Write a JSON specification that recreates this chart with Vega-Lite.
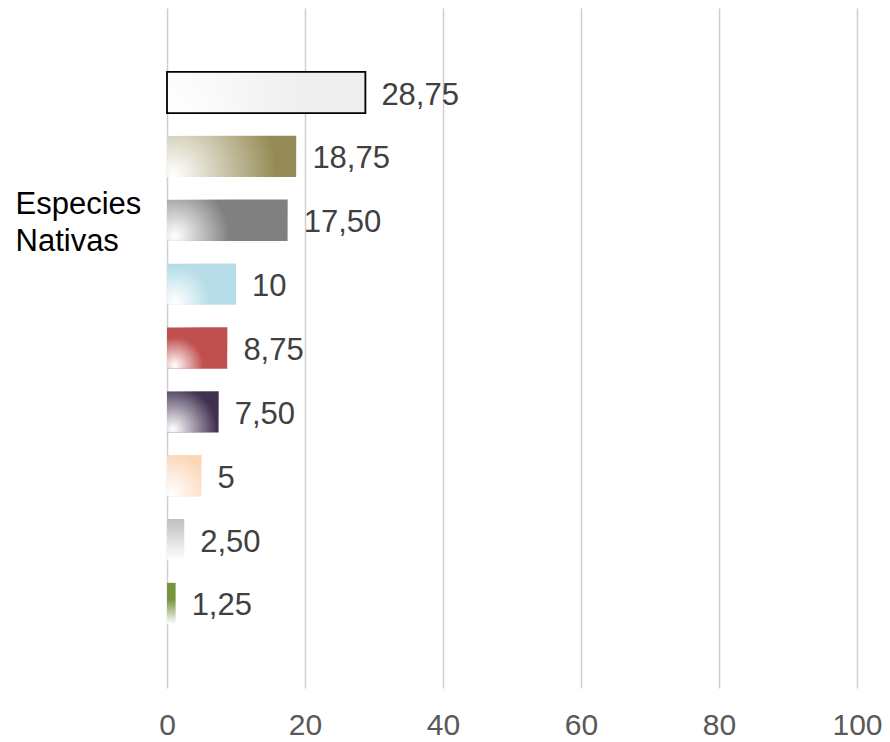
{
  "$schema": "https://vega.github.io/schema/vega-lite/v6.json",
  "width": 690,
  "height": 680,
  "autosize": {"type": "none"},
  "padding": {"left": 167, "top": 8, "right": 33, "bottom": 54},
  "background": "white",
  "config": {"view": {"stroke": null}, "font": "Liberation Sans"},
  "data": {
    "values": [
      {"rango": 1, "valor": 28.75, "etiqueta": "28,75"},
      {"rango": 2, "valor": 18.75, "etiqueta": "18,75"},
      {"rango": 3, "valor": 17.5, "etiqueta": "17,50"},
      {"rango": 4, "valor": 10, "etiqueta": "10"},
      {"rango": 5, "valor": 8.75, "etiqueta": "8,75"},
      {"rango": 6, "valor": 7.5, "etiqueta": "7,50"},
      {"rango": 7, "valor": 5, "etiqueta": "5"},
      {"rango": 8, "valor": 2.5, "etiqueta": "2,50"},
      {"rango": 9, "valor": 1.25, "etiqueta": "1,25"}
    ]
  },
  "encoding": {
    "y": {
      "field": "rango",
      "type": "ordinal",
      "scale": {"paddingInner": 0.354, "paddingOuter": 1.05},
      "axis": {
        "title": ["Especies", "Nativas"],
        "labels": false,
        "ticks": false,
        "domain": false,
        "grid": false,
        "titleAngle": 0,
        "titleAlign": "left",
        "titleBaseline": "middle",
        "titleX": -152,
        "titleY": 196,
        "titleFontSize": 31,
        "titleFontWeight": "normal",
        "titleColor": "#000000",
        "titleLineHeight": 37,
        "titleFont": "Liberation Sans"
      }
    },
    "x": {
      "field": "valor",
      "type": "quantitative",
      "scale": {"domain": [0, 100]},
      "axis": {
        "title": null,
        "values": [0, 20, 40, 60, 80, 100],
        "domain": false,
        "ticks": false,
        "labelFlush": false,
        "labelOverlap": false,
        "labelFontSize": 30,
        "labelColor": "#595959",
        "labelPadding": 22,
        "labelFont": "Liberation Sans",
        "gridColor": "#cfcfcf",
        "gridWidth": 1.5
      }
    }
  },
  "layer": [
    {
      "mark": {"type": "bar"},
      "encoding": {
        "fill": {
          "condition": [
            {"test": "datum.rango == 1", "value": {"gradient": "radial", "x1": 0.025, "y1": 0.59, "r1": 0, "x2": 0.025, "y2": 0.59, "r2": 0.7, "stops": [{"offset": 0, "color": "#ffffff"}, {"offset": 1, "color": "#eeeeee"}]}},
            {"test": "datum.rango == 2", "value": {"gradient": "radial", "x1": 0.05, "y1": 0.64, "r1": 0, "x2": 0.05, "y2": 0.64, "r2": 0.8, "stops": [{"offset": 0, "color": "#ffffff"}, {"offset": 1, "color": "#948A54"}]}},
            {"test": "datum.rango == 3", "value": {"gradient": "radial", "x1": 0.066, "y1": 0.63, "r1": 0, "x2": 0.066, "y2": 0.63, "r2": 0.45, "stops": [{"offset": 0, "color": "#ffffff"}, {"offset": 1, "color": "#808080"}]}},
            {"test": "datum.rango == 4", "value": {"gradient": "radial", "x1": 0.12, "y1": 0.75, "r1": 0, "x2": 0.12, "y2": 0.75, "r2": 0.5, "stops": [{"offset": 0, "color": "#ffffff"}, {"offset": 1, "color": "#B7DEE8"}]}},
            {"test": "datum.rango == 5", "value": {"gradient": "radial", "x1": 0.13, "y1": 0.79, "r1": 0, "x2": 0.13, "y2": 0.79, "r2": 0.47, "stops": [{"offset": 0, "color": "#ffffff"}, {"offset": 1, "color": "#C0504D"}]}},
            {"test": "datum.rango == 6", "value": {"gradient": "radial", "x1": 0.115, "y1": 0.84, "r1": 0, "x2": 0.115, "y2": 0.84, "r2": 0.85, "stops": [{"offset": 0, "color": "#ffffff"}, {"offset": 1, "color": "#403151"}]}},
            {"test": "datum.rango == 7", "value": {"gradient": "radial", "x1": 0.18, "y1": 0.93, "r1": 0, "x2": 0.18, "y2": 0.93, "r2": 1.0, "stops": [{"offset": 0, "color": "#ffffff"}, {"offset": 1, "color": "#FCD5B5"}]}},
            {"test": "datum.rango == 8", "value": {"gradient": "linear", "x1": 0, "y1": 0, "x2": 0, "y2": 1, "stops": [{"offset": 0, "color": "#BFBFBF"}, {"offset": 1, "color": "#ffffff"}]}}
          ],
          "value": {"gradient": "linear", "x1": 0, "y1": 0, "x2": 0, "y2": 1, "stops": [{"offset": 0, "color": "#77933C"}, {"offset": 0.4, "color": "#77933C"}, {"offset": 1, "color": "#ffffff"}]}
        },
        "stroke": {"condition": {"test": "datum.rango == 1", "value": "#000000"}, "value": null},
        "strokeWidth": {"value": 1.8}
      }
    },
    {
      "mark": {"type": "text", "align": "left", "baseline": "middle", "dx": 16, "dy": 3, "fontSize": 31, "color": "#404040", "font": "Liberation Sans"},
      "encoding": {"text": {"field": "etiqueta"}}
    }
  ]
}
